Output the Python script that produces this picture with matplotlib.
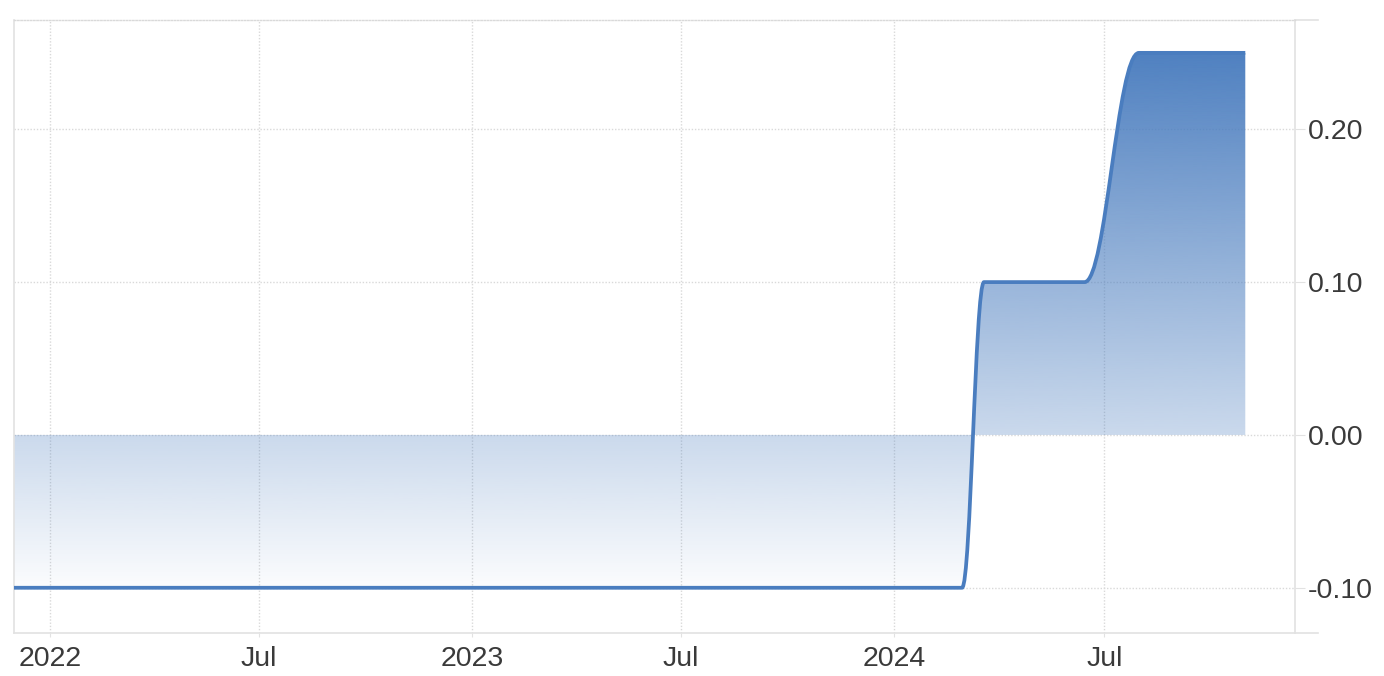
import matplotlib
matplotlib.use("Agg")
import matplotlib.pyplot as plt
import matplotlib.dates as mdates
import numpy as np
from matplotlib.path import Path
from matplotlib.patches import PathPatch
from datetime import date

# policy rate readings (meeting dates)
dates = ["2021-12-01", "2022-01-18", "2022-03-18", "2022-04-28", "2022-06-17", "2022-07-21",
         "2022-09-22", "2022-10-28", "2022-12-20", "2023-01-18", "2023-03-10", "2023-04-28",
         "2023-06-16", "2023-07-28", "2023-09-22", "2023-10-31", "2023-12-19", "2024-01-23",
         "2024-02-29", "2024-03-19", "2024-04-26", "2024-06-14", "2024-07-31", "2024-09-20",
         "2024-10-31"]
rates = [-0.10, -0.10, -0.10, -0.10, -0.10, -0.10,
         -0.10, -0.10, -0.10, -0.10, -0.10, -0.10,
         -0.10, -0.10, -0.10, -0.10, -0.10, -0.10,
         -0.10, 0.10, 0.10, 0.10, 0.25, 0.25,
         0.25]

tick_dates = ["2022-01-01", "2022-07-01", "2023-01-01", "2023-07-01", "2024-01-01", "2024-07-01"]
tick_labels = ["2022", "Jul", "2023", "Jul", "2024", "Jul"]
y_ticks = [-0.10, 0.00, 0.10, 0.20]
y_labels = ["-0.10", "0.00", "0.10", "0.20"]

LINE = "#4a7dbf"
GRID = "#d9d9d9"
AXIS = "#e2e2e2"
TEXT = "#3a3a3a"

plt.rcParams["font.family"] = ["Liberation Sans", "DejaVu Sans"]


def spline_path(xs, ys, smoothing=1.5):
    """Smooth line through the points, same control-point rule as a Highcharts spline."""
    denom = smoothing + 1
    n = len(xs)
    verts = [(xs[0], ys[0])]
    codes = [Path.MOVETO]
    right = [(xs[0], ys[0])]
    for i in range(1, n):
        px, py = xs[i], ys[i]
        lx, ly = xs[i - 1], ys[i - 1]
        left_c = (px, py)
        right_c = (px, py)
        if i < n - 1:
            nx, ny = xs[i + 1], ys[i + 1]
            lcx = (smoothing * px + lx) / denom
            lcy = (smoothing * py + ly) / denom
            rcx = (smoothing * px + nx) / denom
            rcy = (smoothing * py + ny) / denom
            if rcx != lcx:
                corr = (rcy - lcy) * (rcx - px) / (rcx - lcx) + py - rcy
                lcy += corr
                rcy += corr
            if lcy > ly and lcy > py:
                lcy = max(ly, py)
                rcy = 2 * py - lcy
            elif lcy < ly and lcy < py:
                lcy = min(ly, py)
                rcy = 2 * py - lcy
            if rcy > ny and rcy > py:
                rcy = max(ny, py)
                lcy = 2 * py - rcy
            elif rcy < ny and rcy < py:
                rcy = min(ny, py)
                lcy = 2 * py - rcy
            left_c = (lcx, lcy)
            right_c = (rcx, rcy)
        verts += [right[-1], left_c, (px, py)]
        codes += [Path.CURVE4] * 3
        right.append(right_c)
    return verts, codes


x = mdates.date2num([date.fromisoformat(d) for d in dates])
y = np.array(rates)

fig = plt.figure(figsize=(13.84, 6.76), dpi=100)
ax = fig.add_axes([14 / 1384, 1 - 633 / 676, (1295 - 14) / 1384, (633 - 20) / 676])

xmin = mdates.date2num(date(2021, 12, 1))
xmax = mdates.date2num(date(2024, 12, 13))
ax.set_xlim(xmin, xmax)
ax.set_ylim(-0.1296, 0.2715)

verts, codes = spline_path(list(x), list(y))

# area between the line and zero, gradient dark at the top to white at the bottom
area_verts = verts + [(x[-1], 0.0), (x[0], 0.0), (x[0], y[0])]
area_codes = codes + [Path.LINETO, Path.LINETO, Path.CLOSEPOLY]
clip = PathPatch(Path(area_verts, area_codes), facecolor="none", edgecolor="none")
ax.add_patch(clip)

rgb = matplotlib.colors.to_rgb(LINE)
grad = np.zeros((256, 1, 4))
grad[:, 0, :3] = rgb
grad[:, 0, 3] = np.linspace(0.97, 0.02, 256)
im = ax.imshow(grad, extent=[x[0], x[-1], -0.10, 0.25], aspect="auto",
               origin="upper", interpolation="bicubic", zorder=2)
im.set_clip_path(clip)

ax.add_patch(PathPatch(Path(verts, codes), facecolor="none", edgecolor=LINE,
                       lw=2.7, capstyle="butt", joinstyle="round", zorder=3))

# grid
for t in mdates.date2num([date.fromisoformat(d) for d in tick_dates]):
    ax.axvline(t, color=GRID, lw=1, ls=(0, (1, 1.3)), zorder=1)
for v in y_ticks:
    ax.axhline(v, color=GRID, lw=1, ls=(0, (1, 1.3)), zorder=1)

ax.set_xticks(mdates.date2num([date.fromisoformat(d) for d in tick_dates]))
ax.set_xticklabels(tick_labels)
ax.yaxis.tick_right()
ax.set_yticks(y_ticks)
ax.set_yticklabels(y_labels)
ax.tick_params(axis="x", length=3, color=AXIS, pad=6, labelsize=20.5, labelcolor=TEXT)
ax.tick_params(axis="y", length=7, color=AXIS, pad=2, labelsize=20.5, labelcolor=TEXT)

for side in ["left", "right", "bottom"]:
    ax.spines[side].set_color(AXIS)
    ax.spines[side].set_linewidth(1.2)
ax.spines["top"].set_color(GRID)
ax.spines["top"].set_linestyle((0, (1, 1.3)))
ax.spines["top"].set_linewidth(1)

# axis lines run a little past the right edge
ax.plot([1.0, 1.018], [0, 0], transform=ax.transAxes, color=AXIS, lw=1.2, clip_on=False)
ax.plot([1.0, 1.018], [1, 1], transform=ax.transAxes, color=AXIS, lw=1.2, clip_on=False)

fig.savefig("out.png", dpi=100, facecolor="white")
